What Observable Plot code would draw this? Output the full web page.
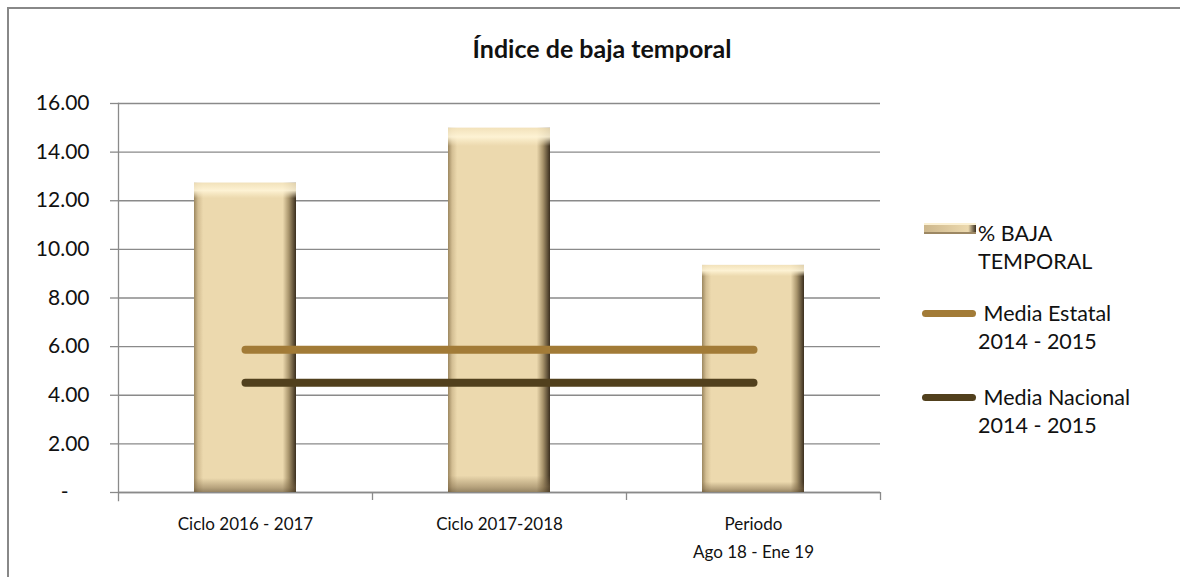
<!DOCTYPE html>
<html>
<head>
<meta charset="utf-8">
<script src="https://cdn.jsdelivr.net/npm/d3@7"></script>
<script src="https://cdn.jsdelivr.net/npm/@observablehq/plot@0.6"></script>
<style>
  html, body { margin: 0; padding: 0; background: #fff; }
  #wrap { position: relative; width: 1180px; height: 577px; overflow: hidden; font-family: Lato, "Open Sans", sans-serif; color: #111; }
  #border { position: absolute; left: 7px; top: 7px; width: 1300px; height: 700px; border: 2px solid #888; box-sizing: border-box; }
  #chart { position: absolute; left: 0; top: 0; }
  #title { position: absolute; left: 2px; width: 1200px; top: 33px; text-align: center; font-weight: 700; font-size: 25px; }
  .lg { position: absolute; font-size: 21.5px; line-height: 28px; }
  .sw { position: absolute; }
</style>
</head>
<body>
<div id="wrap">
  <div id="border"></div>
  <div id="chart"></div>
  <div id="title">Índice de baja temporal</div>
  <div id="legend"></div>
</div>
<script>
const categories = ["Ciclo 2016 - 2017", "Ciclo 2017-2018", "Periodo\nAgo 18 - Ene 19"];
const bajaTemporal = [12.72, 14.98, 9.34];
const mediaEstatal = [5.87, 5.87, 5.87];
const mediaNacional = [4.51, 4.51, 4.51];
const yTicks = [0, 2, 4, 6, 8, 10, 12, 14, 16];
const seriesNames = ["% BAJA\nTEMPORAL", " Media Estatal\n2014 - 2015", " Media Nacional\n2014 - 2015"];

const W = 1180, H = 577, mL = 118, mR = 300, mT = 103, mB = 85;
const step = (W - mL - mR) / categories.length;

const bars = categories.map((c, i) => ({cat: c, v: bajaTemporal[i]}));
const est = categories.map((c, i) => ({cat: c, v: mediaEstatal[i]}));
const nac = categories.map((c, i) => ({cat: c, v: mediaNacional[i]}));

const grid = "#8a8a8a";
const cEst = "#A27B37", cNac = "#51401D";

const plot = Plot.plot({
  width: W, height: H,
  marginLeft: mL, marginRight: mR, marginTop: mT, marginBottom: mB,
  style: {fontFamily: "Lato, 'Open Sans', sans-serif", fontSize: "17px", color: "#111", background: "transparent"},
  x: {domain: categories, paddingInner: 0.6, paddingOuter: 0.3, label: null},
  y: {domain: [0, 16], label: null},
  marks: [
    Plot.gridY(yTicks, {stroke: grid, strokeOpacity: 1, strokeWidth: 1.3}),
    Plot.axisY(yTicks, {tickSize: 8, tickPadding: 21, stroke: grid, strokeWidth: 1.3, label: null, fontSize: 21,
      tickFormat: d => d === 0 ? "-\u2002\u2002" : d.toFixed(2)}),
    Plot.axisX({tickSize: 0, tickPadding: 18, label: null, fontSize: 17, lineHeight: 1.65}),
    Plot.axisX({tickSize: 8, dx: step / 2, text: null, stroke: grid, strokeWidth: 1.3, label: null}),
    Plot.ruleY([0], {stroke: grid, strokeWidth: 1.3}),
    Plot.frame({anchor: "left", stroke: grid, strokeWidth: 1.3, insetBottom: -8}),
    Plot.barY(bars, {x: "cat", y: "v", fill: "url(#barH)"}),
    Plot.barY(bars, {x: "cat", y: "v", fill: "url(#barV)"}),
    Plot.lineY(est, {x: "cat", y: "v", stroke: cEst, strokeWidth: 8, strokeLinecap: "round"}),
    Plot.lineY(nac, {x: "cat", y: "v", stroke: cNac, strokeWidth: 8, strokeLinecap: "round"})
  ]
});

const ns = "http://www.w3.org/2000/svg";
const defs = document.createElementNS(ns, "defs");
defs.innerHTML = `
  <linearGradient id="barH" x1="0" y1="0" x2="1" y2="0">
    <stop offset="0" stop-color="#9c875f"/>
    <stop offset="0.04" stop-color="#d3be93"/>
    <stop offset="0.09" stop-color="#ecd9ae"/>
    <stop offset="0.87" stop-color="#ecd9ae"/>
    <stop offset="0.93" stop-color="#a8946c"/>
    <stop offset="1" stop-color="#3a2e1e"/>
  </linearGradient>
  <linearGradient id="barV" x1="0" y1="0" x2="0" y2="1">
    <stop offset="0" stop-color="#f3e3bc" stop-opacity="0.9"/>
    <stop offset="0.025" stop-color="#fff5d8" stop-opacity="0.9"/>
    <stop offset="0.05" stop-color="#fdf1cf" stop-opacity="0"/>
    <stop offset="0.955" stop-color="#7a6545" stop-opacity="0"/>
    <stop offset="0.985" stop-color="#7a6545" stop-opacity="0.45"/>
    <stop offset="1" stop-color="#5a4a30" stop-opacity="0.6"/>
  </linearGradient>`;
plot.insertBefore(defs, plot.firstChild);
document.getElementById("chart").appendChild(plot);

// Legend
const legend = document.getElementById("legend");
const lgItems = [
  {name: seriesNames[0], top: 219, kind: "bar"},
  {name: seriesNames[1], top: 299, kind: "line", color: cEst},
  {name: seriesNames[2], top: 383, kind: "line", color: cNac}
];
lgItems.forEach(it => {
  const sw = document.createElement("div");
  sw.className = "sw";
  if (it.kind === "bar") {
    Object.assign(sw.style, {left: "924px", top: (it.top + 4) + "px", width: "52px", height: "11px",
      background: "linear-gradient(90deg,#cdb78c 0%,#ecd9ae 85%,#3a2e1e 100%)",
      boxShadow: "inset 0 2px 0 #fbf0d2, inset 0 -2px 0 #9c8763"});
  } else {
    Object.assign(sw.style, {left: "922px", top: (it.top + 11) + "px", width: "54px", height: "7px",
      background: it.color, borderRadius: "4px"});
  }
  legend.appendChild(sw);
  const t = document.createElement("div");
  t.className = "lg";
  Object.assign(t.style, {left: "978px", top: it.top + "px", whiteSpace: "pre"});
  t.textContent = it.name;
  legend.appendChild(t);
});
</script>
</body>
</html>
